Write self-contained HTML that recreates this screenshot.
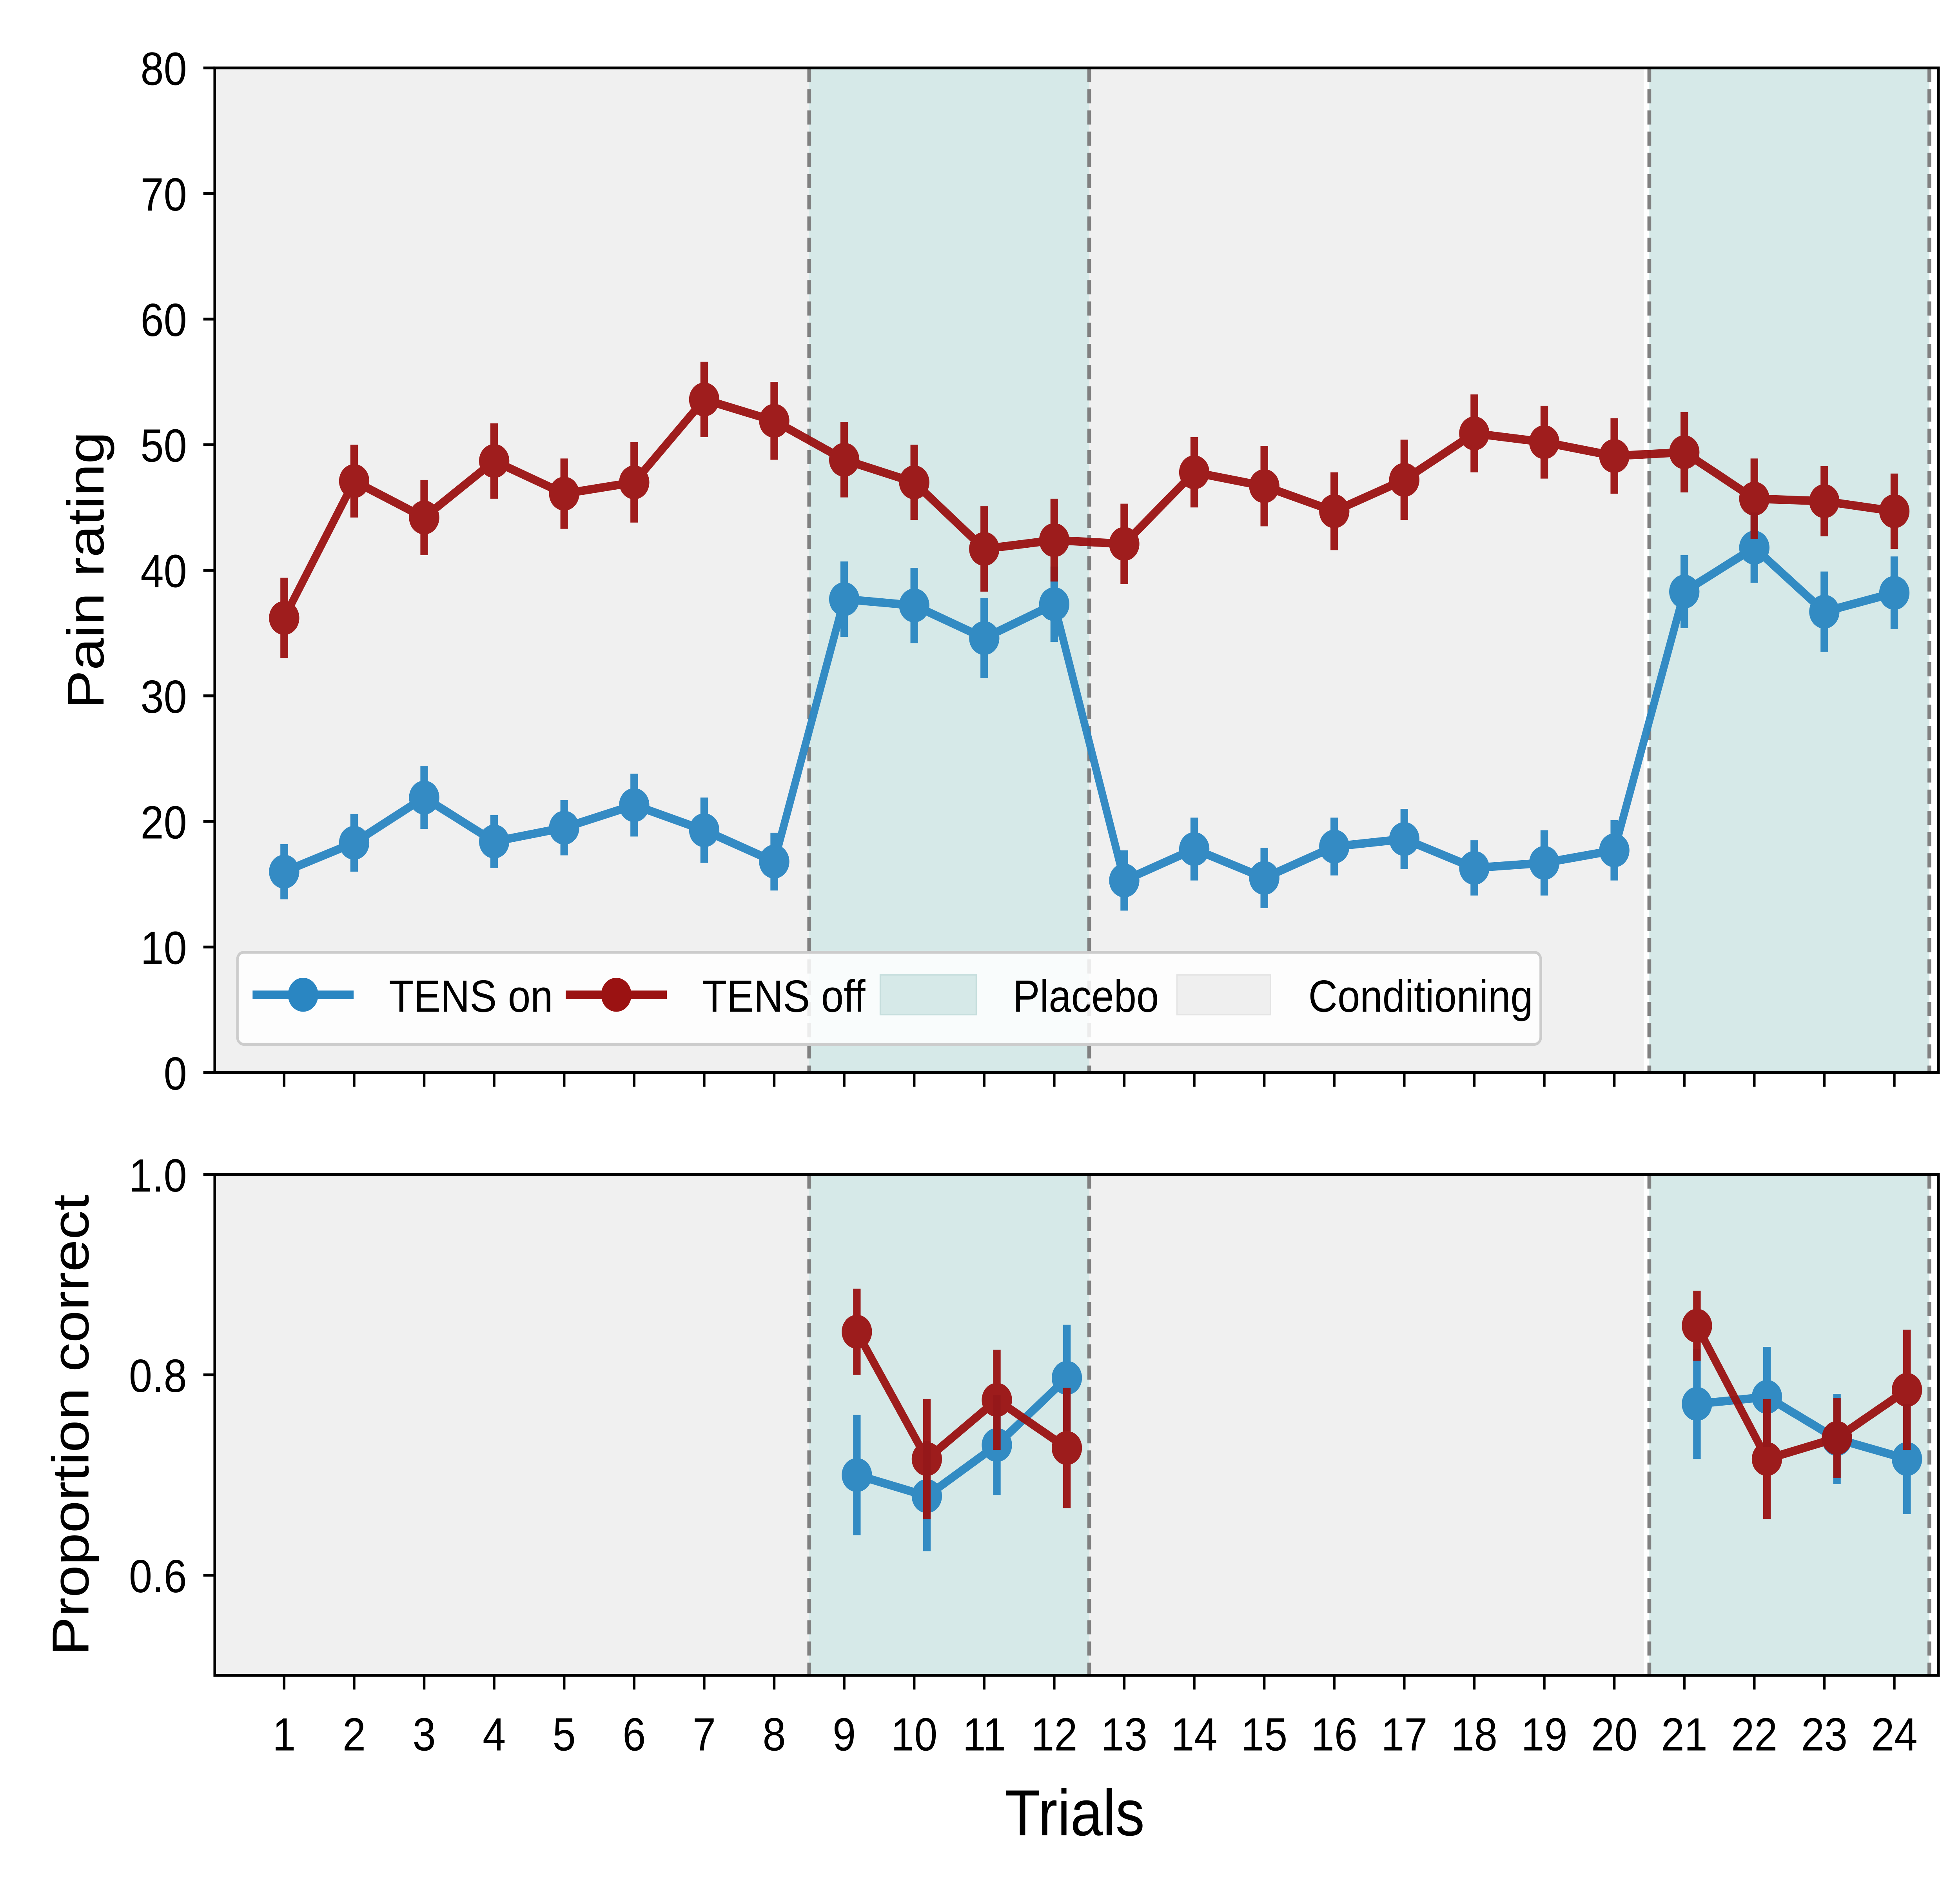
<!DOCTYPE html>
<html><head><meta charset="utf-8"><style>
html,body{margin:0;padding:0;background:#fff;overflow:hidden;width:100%;height:100%}
svg{display:block;position:absolute;left:0;top:0;width:100vw;height:100vh}
text{font-family:"Liberation Sans Narrow","Liberation Sans",sans-serif;fill:#000}
</style></head><body>
<svg id="chart" viewBox="0 0 1552 1330" preserveAspectRatio="none" xmlns="http://www.w3.org/2000/svg">
<g id="gtop"></g>
<g id="gbot"></g>
</svg>
<script>
const trials=[1,2,3,4,5,6,7,8,9,10,11,12,13,14,15,16,17,18,19,20,21,22,23,24];
const painOn=[16.0,18.3,21.9,18.4,19.5,21.3,19.3,16.8,37.7,37.2,34.6,37.3,15.3,17.8,15.5,18.0,18.6,16.3,16.7,17.7,38.3,41.8,36.7,38.2];
const painOnErr=[2.2,2.3,2.5,2.1,2.2,2.5,2.6,2.3,3.0,3.0,3.2,3.0,2.4,2.5,2.4,2.3,2.4,2.2,2.6,2.4,2.9,2.8,3.2,2.9];
const painOff=[36.2,47.1,44.2,48.7,46.1,47.0,53.6,51.9,48.8,47.0,41.7,42.4,42.1,47.8,46.7,44.7,47.2,50.9,50.2,49.1,49.4,45.7,45.5,44.7];
const painOffErr=[3.2,2.9,3.0,3.0,2.8,3.2,3.0,3.1,3.0,3.0,3.4,3.3,3.2,2.8,3.2,3.1,3.2,3.1,2.9,3.0,3.2,3.2,2.8,3.0];
const propTrials=[9,10,11,12,21,22,23,24];
const propOn=[0.700,0.679,0.730,0.797,0.771,0.778,0.736,0.716];
const propOnErr=[0.060,0.055,0.050,0.053,0.055,0.050,0.045,0.055];
const propOff=[0.843,0.716,0.775,0.727,0.849,0.716,0.737,0.785];
const propOffErr=[0.043,0.060,0.050,0.060,0.035,0.060,0.040,0.060];
const painTicks=[0,10,20,30,40,50,60,70,80];
const propTicks=[0.6,0.8,1.0];
const placeboSpans=[[8.5,12.5],[20.5,24.5]];
const condSpans=[[0,20.42]];
const dashes=[8.5,12.5,20.5,24.5];

const NS="http://www.w3.org/2000/svg";
const LEFT=170,RIGHT=1535;
const xs=t=>225+(t-1)*(1500-225)/23;
const yTop=v=>758-(v/80)*710;
const yBot=v=>1184-(v-0.5)/0.5*354;
const BLUE="#2a86c2",RED="#9b1212";
function el(p,tag,a,txt){const e=document.createElementNS(NS,tag);for(const k in a)e.setAttribute(k,a[k]);if(txt!==undefined)e.textContent=txt;p.appendChild(e);return e;}

function panel(g,y0,y1,yf,ticks,fmt,label,segs,series,offset,showXLabels){
  const r=el(g,'rect',{x:LEFT,y:y0,width:RIGHT-LEFT,height:y1-y0,fill:'#ffffff'});
  
  condSpans.forEach(s=>{const a=Math.max(LEFT,xs(s[0]));const c=el(g,'rect',{x:a,y:y0,width:xs(s[1])-a,height:y1-y0,fill:'#f0f0f0'});
    });
  placeboSpans.forEach(s=>{const c=el(g,'rect',{x:xs(s[0]),y:y0,width:xs(s[1])-xs(s[0]),height:y1-y0,fill:'#d6e9e8'});
    });
  dashes.forEach(d=>{const l=el(g,'line',{x1:xs(d),x2:xs(d),y1:y0,y2:y1,stroke:'#808080','stroke-width':3,'stroke-dasharray':'10 5'});
    });
  ticks.forEach(t=>{const yy=yf(t);
    const tl=el(g,'line',{x1:LEFT-9,x2:LEFT,y1:yy,y2:yy,stroke:'#000','stroke-width':2});
    
    const tx=el(g,'text',{x:148,y:yy+12,'text-anchor':'end','font-size':33},fmt(t));
    });
  trials.forEach(t=>{const tl=el(g,'line',{x1:xs(t),x2:xs(t),y1:y1,y2:y1+10,stroke:'#000','stroke-width':2});
    
    if(showXLabels){const tx=el(g,'text',{x:xs(t),y:1237,'text-anchor':'middle','font-size':33},String(t));
      }});
  const ly=(y0+y1)/2;
  const yl=el(g,'text',{x:0,y:0,'text-anchor':'middle','font-size':41,transform:'translate('+label[1]+','+ly+') rotate(-90)'},label[0]);
  
  series.forEach(s=>{
    const sg=el(g,'g',{opacity:s.op});
    
    segs.forEach(seg=>{
      const pts=seg.map(i=>(xs(s.t[i])+offset)+','+yf(s.v[i])).join(' ');
      const pl=el(sg,'polyline',{points:pts,fill:'none',stroke:s.c,'stroke-width':6,'stroke-linejoin':'round'});
      
    });
    s.v.forEach((v,i)=>{const xx=xs(s.t[i])+offset;
      const eb=el(sg,'line',{x1:xx,x2:xx,y1:yf(v-s.e[i]),y2:yf(v+s.e[i]),stroke:s.c,'stroke-width':6});
      
      const m=el(sg,'circle',{cx:xx,cy:yf(v),r:12,fill:s.c});
      });
  });
  const fr=el(g,'rect',{x:LEFT,y:y0,width:RIGHT-LEFT,height:y1-y0,fill:'none',stroke:'#000','stroke-width':2});
  
}
const gTop=document.getElementById('gtop'),gBot=document.getElementById('gbot');
const allIdx=trials.map((_,i)=>i);
panel(gTop,48,758,yTop,painTicks,t=>String(t),['Pain rating',82],[allIdx],[
  {name:'tens-on-series',t:trials,v:painOn,e:painOnErr,c:BLUE,op:0.95},
  {name:'tens-off-series',t:trials,v:painOff,e:painOffErr,c:RED,op:0.95}],0,false);
panel(gBot,830,1184,yBot,propTicks,t=>t.toFixed(1),['Proportion correct',70],[[0,1,2,3],[4,5,6,7]],[
  {name:'tens-on-series',t:propTrials,v:propOn,e:propOnErr,c:BLUE,op:0.95},
  {name:'tens-off-series',t:propTrials,v:propOff,e:propOffErr,c:RED,op:0.95}],10,true);
const svgRoot=document.getElementById('chart');
const xt=el(svgRoot,'text',{x:851,y:1297,'text-anchor':'middle','font-size':46},'Trials');


const lg=el(svgRoot,'g',{});


el(lg,'rect',{x:188,y:673,width:1032,height:65,rx:5,fill:'#ffffff','fill-opacity':0.85,stroke:'#cccccc','stroke-width':2});
const e1=el(lg,'g',{});


el(e1,'line',{x1:200,x2:280,y1:703,y2:703,stroke:BLUE,'stroke-width':6});
el(e1,'circle',{cx:240,cy:703,r:12,fill:BLUE});
el(e1,'text',{x:308,y:715,'font-size':32},'TENS on');
const e2=el(lg,'g',{});


el(e2,'line',{x1:448,x2:528,y1:703,y2:703,stroke:RED,'stroke-width':6});
el(e2,'circle',{cx:488,cy:703,r:12,fill:RED});
el(e2,'text',{x:556,y:715,'font-size':32},'TENS off');
const e3=el(lg,'g',{});


el(e3,'rect',{x:697,y:689,width:76,height:28,fill:'#d6e9e8',stroke:'#c6dedd'});
el(e3,'text',{x:802,y:715,'font-size':32},'Placebo');
const e4=el(lg,'g',{});


el(e4,'rect',{x:932,y:689,width:74,height:28,fill:'#efefef',stroke:'#e4e4e4'});
el(e4,'text',{x:1036,y:715,'font-size':32},'Conditioning');
</script>
</body></html>
